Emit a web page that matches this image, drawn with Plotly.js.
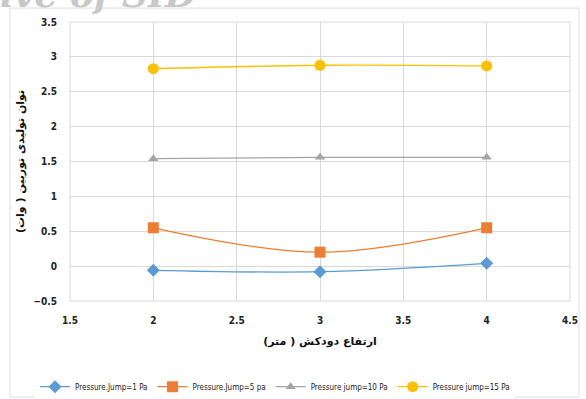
<!DOCTYPE html>
<html>
<head>
<meta charset="utf-8">
<script src="https://cdn.plot.ly/plotly-3.0.1.min.js"></script>
<style>
html,body{margin:0;padding:0;background:#fff;}
#chart{width:586px;height:399px;}
</style>
</head>
<body>
<div id="chart"></div>
<script>
const heights = [2, 3, 4];
const seriesNames = ["Pressure.Jump=1 Pa", "Pressure.Jump=5 pa", "Pressure jump=10 Pa", "Pressure jump=15 Pa"];
const jump1 = [-0.06, -0.08, 0.04];
const jump5 = [0.55, 0.20, 0.55];
const jump10 = [1.54, 1.56, 1.56];
const jump15 = [2.83, 2.88, 2.87];
const xTitle = "ارتفاع دودکش ( متر)";
const yTitle = "توان تولیدی توربین ( وات)";

const colors = ["#5b9bd5", "#ed7d31", "#a5a5a5", "#ffc000"];
const symbols = ["diamond", "square", "triangle-up", "circle"];
const sizes = [10, 11, 9, 11];
const data = [jump1, jump5, jump10, jump15].map((ys, i) => ({
  x: heights, y: ys, name: seriesNames[i], type: "scatter", mode: "lines+markers",
  line: {color: colors[i], width: 1.3, shape: "spline", smoothing: 1},
  marker: {color: colors[i], symbol: symbols[i], size: sizes[i]}
}));

const font = "'DejaVu Sans Condensed', 'Liberation Sans Narrow', Arial, sans-serif";
const layout = {
  width: 586, height: 399,
  margin: {l: 70, r: 16, t: 22, b: 98, autoexpand: false},
  paper_bgcolor: "#fff", plot_bgcolor: "#fff",
  showlegend: true,
  font: {family: font, color: "#222"},
  xaxis: {
    range: [1.5, 4.5], dtick: 0.5, tick0: 1.5,
    showgrid: true, gridcolor: "#d9d9d9", gridwidth: 1,
    zeroline: false, showline: false, ticks: "",
    ticklabelstandoff: 12, automargin: false,
    tickfont: {size: 10, family: font, color: "#222", weight: "bold"},
    title: {text: xTitle, font: {size: 11, family: "'DejaVu Sans', sans-serif", color: "#111", weight: "bold"}, standoff: 12}
  },
  yaxis: {
    range: [-0.5, 3.5], dtick: 0.5,
    showgrid: true, gridcolor: "#d9d9d9", gridwidth: 1,
    zeroline: false, showline: false, ticks: "",
    ticklabelstandoff: 12, automargin: false,
    tickfont: {size: 10, family: font, color: "#222", weight: "bold"},
    title: {text: yTitle, font: {size: 11, family: "'DejaVu Sans', sans-serif", color: "#111", weight: "bold"}, standoff: 6}
  },
  legend: {
    orientation: "h", x: -0.07, xanchor: "left", y: -0.255, yanchor: "top",
    font: {size: 8, family: font, color: "#222"},
    itemwidth: 30, tracegroupgap: 0
  },
  shapes: [
    {type: "rect", xref: "paper", yref: "paper", x0: -0.12, x1: 1.018, y0: -0.344, y1: 1.05,
     line: {color: "#e0e0e0", width: 1}, fillcolor: "rgba(0,0,0,0)", layer: "below"},
    {type: "line", xref: "paper", yref: "paper", x0: 1, x1: 1, y0: 0, y1: 1, line: {color: "#d9d9d9", width: 1}},
    {type: "line", xref: "paper", yref: "paper", x0: 0, x1: 1, y0: 1, y1: 1, line: {color: "#d9d9d9", width: 1}},
    {type: "line", xref: "paper", yref: "paper", x0: 0, x1: 1, y0: 0, y1: 0, line: {color: "#d9d9d9", width: 1}},
    {type: "line", xref: "paper", yref: "paper", x0: 0, x1: 0, y0: 0, y1: 1, line: {color: "#d9d9d9", width: 1}}
  ],
  annotations: [
    {text: "Archive of SID", xref: "paper", yref: "paper", x: -0.34, y: 1.1, xanchor: "left", yanchor: "middle",
     showarrow: false, font: {size: 36, family: "'DejaVu Serif', serif", color: "#c8c8c8", style: "italic", weight: "bold"}}
  ]
};
Plotly.newPlot("chart", data, layout, {displayModeBar: false, staticPlot: true});
</script>
</body>
</html>
